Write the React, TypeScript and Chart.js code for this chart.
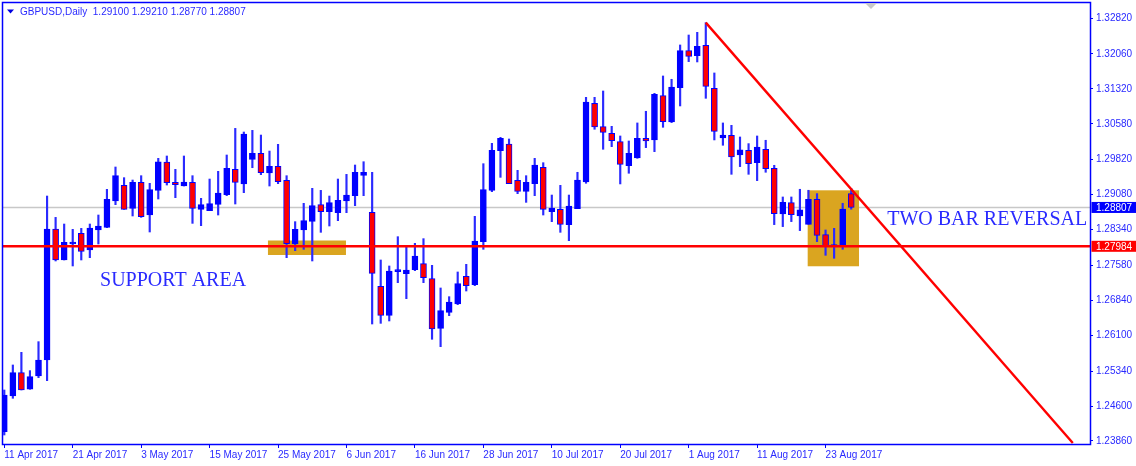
import { useEffect, useRef } from 'react';
import Chart, { Plugin } from 'chart.js/auto';

const opens = [
  1.24058, 1.24813, 1.25308, 1.24955, 1.25237, 1.25576, 1.2835, 1.27694, 1.28033, 1.28259,
  1.27906, 1.28329, 1.28386, 1.28943, 1.29275, 1.28788, 1.29339, 1.28647, 1.29169, 1.29769,
  1.29339, 1.29261, 1.29339, 1.28767, 1.28739, 1.28873, 1.29078, 1.29614, 1.29303, 1.29826,
  1.29953, 1.29536, 1.29678, 1.29381, 1.28033, 1.28329, 1.28513, 1.28866, 1.28717, 1.28696,
  1.28943, 1.29056, 1.29487, 1.28703, 1.27136, 1.26522, 1.27447, 1.27404, 1.27489, 1.27616,
  1.27298, 1.26246, 1.26585, 1.26762, 1.27348, 1.27171, 1.28082, 1.29169, 1.30009, 1.30151,
  1.29381, 1.29148, 1.29311, 1.29656, 1.28717, 1.28767, 1.28442, 1.28782, 1.29347, 1.31013,
  1.30519, 1.30378, 1.30201, 1.29693, 1.29855, 1.30272, 1.30237, 1.31176, 1.30618, 1.31345,
  1.32129, 1.32023, 1.32242, 1.31331, 1.30279, 1.30335, 1.29919, 1.30018, 1.29757, 1.30039,
  1.29636, 1.28669, 1.28909, 1.28627, 1.2845, 1.2898, 1.28231, 1.27977, 1.27991, 1.291,
];
const highs = [
  1.2494, 1.2547, 1.25738, 1.2535, 1.25964, 1.29049, 1.28597, 1.28456, 1.28343, 1.28364,
  1.28456, 1.28647, 1.29191, 1.29664, 1.29438, 1.29388, 1.2948, 1.29318, 1.29847, 1.29897,
  1.29614, 1.29897, 1.2948, 1.29, 1.29409, 1.29572, 1.29918, 1.30482, 1.30405, 1.3044,
  1.30341, 1.30002, 1.30144, 1.2948, 1.28506, 1.28894, 1.29212, 1.29169, 1.29049, 1.29409,
  1.29508, 1.29706, 1.29776, 1.29551, 1.27694, 1.27567, 1.28188, 1.2799, 1.28047, 1.28146,
  1.27581, 1.27101, 1.26917, 1.2744, 1.27602, 1.28619, 1.29734, 1.30165, 1.30292, 1.30257,
  1.29593, 1.2948, 1.29847, 1.29755, 1.2907, 1.29275, 1.2907, 1.29552, 1.3114, 1.3114,
  1.31274, 1.30526, 1.30321, 1.30215, 1.30597, 1.30844, 1.31225, 1.31592, 1.31522, 1.32249,
  1.3246, 1.32517, 1.32722, 1.31656, 1.30597, 1.30547, 1.303, 1.30159, 1.30321, 1.3023,
  1.297, 1.29029, 1.29029, 1.29192, 1.29171, 1.291, 1.2833, 1.28365, 1.28895, 1.2921,
];
const lows = [
  1.23987, 1.24764, 1.2494, 1.24955, 1.25202, 1.25138, 1.27673, 1.27694, 1.27567, 1.27694,
  1.27743, 1.28033, 1.28379, 1.28866, 1.28767, 1.28626, 1.28597, 1.28287, 1.28986, 1.29282,
  1.29014, 1.29261, 1.2847, 1.28421, 1.28739, 1.28647, 1.29056, 1.2888, 1.2912, 1.29649,
  1.29501, 1.29261, 1.29311, 1.27743, 1.27891, 1.2792, 1.27673, 1.2828, 1.28414, 1.28527,
  1.28696, 1.28845, 1.29056, 1.26338, 1.26352, 1.26402, 1.27214, 1.26875, 1.27468, 1.27214,
  1.26014, 1.25858, 1.26515, 1.26748, 1.27037, 1.2715, 1.2792, 1.29141, 1.29445, 1.29311,
  1.29099, 1.28915, 1.29056, 1.28647, 1.28506, 1.2828, 1.28103, 1.28782, 1.29319, 1.30463,
  1.30039, 1.30095, 1.29305, 1.29531, 1.29848, 1.30074, 1.29989, 1.30505, 1.30604, 1.30957,
  1.31896, 1.31889, 1.31119, 1.30237, 1.30124, 1.29509, 1.29672, 1.29509, 1.29375, 1.29552,
  1.28443, 1.28401, 1.28507, 1.28316, 1.2845, 1.28083, 1.27793, 1.2773, 1.27921, 1.2877,
];
const closes = [
  1.24834, 1.25308, 1.2494, 1.25223, 1.25576, 1.2835, 1.27694, 1.28068, 1.28068, 1.27877,
  1.28372, 1.28414, 1.28979, 1.2948, 1.28767, 1.29339, 1.28612, 1.29183, 1.29776, 1.29332,
  1.29289, 1.29346, 1.28788, 1.28866, 1.28887, 1.29113, 1.29635, 1.29339, 1.30362, 1.29953,
  1.29544, 1.29678, 1.29353, 1.2804, 1.28343, 1.28527, 1.28845, 1.28717, 1.28908, 1.28958,
  1.2907, 1.29551, 1.29551, 1.27411, 1.26522, 1.27461, 1.27482, 1.27482, 1.27779, 1.2732,
  1.26232, 1.26621, 1.26804, 1.27193, 1.2715, 1.28096, 1.29183, 1.30017, 1.30271, 1.29311,
  1.29148, 1.29339, 1.29706, 1.28767, 1.28795, 1.28449, 1.28838, 1.29389, 1.31041, 1.30512,
  1.30399, 1.30222, 1.29721, 1.29954, 1.30272, 1.30215, 1.31204, 1.30625, 1.31359, 1.32129,
  1.32009, 1.3222, 1.31373, 1.3042, 1.30342, 1.29877, 1.30025, 1.29735, 1.30088, 1.29629,
  1.28676, 1.28916, 1.28655, 1.28754, 1.2898, 1.28217, 1.27977, 1.28012, 1.28775, 1.28807,
];

const dateTicks = [0, 8, 16, 24, 32, 40, 48, 56, 64, 72, 80, 88, 96];
const dateLabels = [
  '11 Apr 2017', '21 Apr 2017', '3 May 2017', '15 May 2017', '25 May 2017', '6 Jun 2017', '16 Jun 2017',
  '28 Jun 2017', '10 Jul 2017', '20 Jul 2017', '1 Aug 2017', '11 Aug 2017', '23 Aug 2017',
];
const priceTicks = [
  1.3282, 1.3206, 1.3132, 1.3058, 1.2982, 1.2908, 1.2834, 1.2758, 1.2684, 1.261, 1.2534, 1.246, 1.2386,
];

const lastPrice = 1.28807;
const supportPrice = 1.27984;
const trendX = [82, 124.9];
const trendY = [1.32722, 1.23818];
// x1, x2, top, bottom
const zones = [
  [30.82, 39.94, 1.28107, 1.278],
  [93.91, 99.91, 1.2917, 1.27561],
];
const notes = [
  { text: 'SUPPORT AREA', x: 11.19, y: 1.27251 },
  { text: 'TWO BAR REVERSAL', x: 103.2, y: 1.28544 },
];
const header = 'GBPUSD,Daily  1.29100 1.29210 1.28770 1.28807';

const X_MIN = -0.15;
const X_MAX = 126.91;
const BLUE = '#0000ff';
const TEXT_BLUE = '#2a2aff';
const AXIS_FONT = { family: '"Liberation Sans"', size: 10 };
const WICK_DATASET = 3;

const overlay: Plugin = {
  id: 'overlay',
  // zones sit above the grey price line but under the candles
  beforeDatasetDraw(chart, args) {
    if (args.index !== WICK_DATASET) return;
    const { ctx, scales } = chart;
    ctx.save();
    zones.forEach(([x1, x2, top, bottom]) => {
      const left = scales.x.getPixelForValue(x1);
      const right = scales.x.getPixelForValue(x2);
      const y1 = scales.y.getPixelForValue(top);
      const y2 = scales.y.getPixelForValue(bottom);
      ctx.fillStyle = '#daa520';
      ctx.fillRect(left, y1, right - left, y2 - y1);
    });
    ctx.restore();
  },
  afterDraw(chart) {
    const { ctx, scales, chartArea } = chart;
    ctx.save();
    ctx.strokeStyle = BLUE;
    ctx.lineWidth = 1.5;
    ctx.strokeRect(chartArea.left - 0.5, chartArea.top - 0.5, chartArea.width + 1, chartArea.height + 1);

    // chart shift marker
    ctx.fillStyle = '#c8c8c8';
    ctx.beginPath();
    ctx.moveTo(865, 3);
    ctx.lineTo(877, 3);
    ctx.lineTo(871, 9);
    ctx.fill();

    // symbol header
    ctx.fillStyle = '#0000e0';
    ctx.beginPath();
    ctx.moveTo(7, 9.5);
    ctx.lineTo(14, 9.5);
    ctx.lineTo(10.5, 13.5);
    ctx.fill();
    ctx.font = '10px "Liberation Sans"';
    ctx.fillStyle = TEXT_BLUE;
    ctx.textAlign = 'left';
    ctx.textBaseline = 'middle';
    ctx.fillText(header, 20, 12);

    ctx.font = '20px "Liberation Serif"';
    ctx.fillStyle = TEXT_BLUE;
    notes.forEach((n) => {
      ctx.fillText(n.text, scales.x.getPixelForValue(n.x), scales.y.getPixelForValue(n.y));
    });

    // price tags on the axis
    const tags: [number, string][] = [
      [lastPrice, BLUE],
      [supportPrice, '#ff0000'],
    ];
    ctx.font = '10px "Liberation Sans"';
    tags.forEach(([price, colour]) => {
      const y = scales.y.getPixelForValue(price);
      ctx.fillStyle = colour;
      ctx.fillRect(chartArea.right + 1.5, y - 5.5, 46, 11);
      ctx.fillStyle = '#ffffff';
      ctx.fillText(price.toFixed(5), chartArea.right + 6, y + 0.5);
    });
    ctx.restore();
  },
};

export default function App() {
  const canvasRef = useRef<HTMLCanvasElement | null>(null);

  useEffect(() => {
    document.body.style.margin = '0';
    if (!canvasRef.current) return undefined;

    const chart = new Chart(canvasRef.current, {
      type: 'bar',
      data: {
        datasets: [
          {
            type: 'line',
            data: [
              { x: X_MIN, y: supportPrice },
              { x: X_MAX, y: supportPrice },
            ],
            borderColor: '#ff0000',
            borderWidth: 2.4,
            pointRadius: 0,
            order: 1,
          },
          {
            type: 'line',
            data: trendX.map((x, i) => ({ x, y: trendY[i] })),
            borderColor: '#ff0000',
            borderWidth: 2.4,
            pointRadius: 0,
            order: 2,
          },
          {
            data: opens.map((o, i) => ({ x: i, y: [Math.min(o, closes[i]), Math.max(o, closes[i])] })),
            backgroundColor: opens.map((o, i) => (closes[i] < o ? '#ff0000' : BLUE)),
            borderColor: BLUE,
            borderWidth: 1,
            borderSkipped: false,
            barThickness: 6,
            minBarLength: 2,
            grouped: false,
            order: 3,
          },
          {
            data: opens.map((_, i) => ({ x: i, y: [lows[i], highs[i]] })),
            backgroundColor: '#2a2aff',
            barThickness: 1.5,
            grouped: false,
            order: 4,
          },
          {
            type: 'line',
            data: [
              { x: X_MIN, y: lastPrice },
              { x: X_MAX, y: lastPrice },
            ],
            borderColor: '#c8c8c8',
            borderWidth: 1.5,
            pointRadius: 0,
            order: 5,
          },
        ],
      },
      options: {
        responsive: false,
        animation: false,
        devicePixelRatio: 1,
        parsing: { xAxisKey: 'x', yAxisKey: 'y' },
        layout: { autoPadding: false, padding: { left: 3, top: 3 } },
        plugins: { legend: { display: false }, tooltip: { enabled: false } },
        scales: {
          x: {
            type: 'linear',
            offset: false,
            min: X_MIN,
            max: X_MAX,
            afterBuildTicks: (axis) => {
              axis.ticks = dateTicks.map((value) => ({ value }));
            },
            afterFit: (axis) => {
              axis.height = 22;
              axis.paddingLeft = 0;
              axis.paddingRight = 0;
            },
            border: { color: BLUE },
            grid: { drawOnChartArea: false, tickColor: BLUE, tickLength: 4, offset: false },
            ticks: {
              autoSkip: false,
              maxRotation: 0,
              align: 'start',
              padding: 1,
              color: TEXT_BLUE,
              font: AXIS_FONT,
              callback: (value) => dateLabels[dateTicks.indexOf(Number(value))],
            },
          },
          y: {
            position: 'right',
            min: 1.23796,
            max: 1.33138,
            afterBuildTicks: (axis) => {
              axis.ticks = priceTicks.map((value) => ({ value }));
            },
            afterFit: (axis) => {
              axis.width = 46;
              axis.paddingTop = 0;
              axis.paddingBottom = 0;
            },
            border: { color: BLUE },
            grid: { drawOnChartArea: false, tickColor: BLUE, tickLength: 3 },
            ticks: {
              autoSkip: false,
              padding: 3,
              color: TEXT_BLUE,
              font: AXIS_FONT,
              callback: (value) => Number(value).toFixed(5),
            },
          },
        },
      },
      plugins: [overlay],
    });

    return () => {
      chart.destroy();
    };
  }, []);

  return <canvas ref={canvasRef} width={1136} height={466} style={{ display: 'block' }} />;
}
